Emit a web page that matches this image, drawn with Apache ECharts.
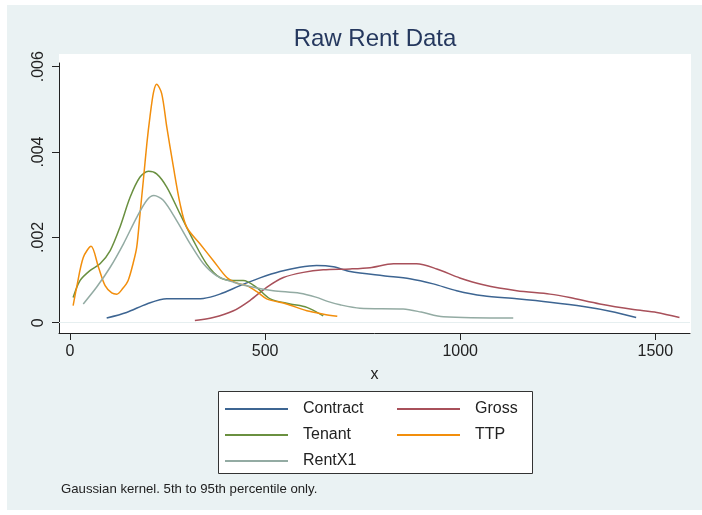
<!DOCTYPE html>
<html>
<head>
<meta charset="utf-8">
<script src="https://cdn.jsdelivr.net/npm/echarts@6/dist/echarts.min.js"></script>
<style>
html,body{margin:0;padding:0;background:#fff;}
#chart{width:702px;height:515px;}
</style>
</head>
<body>
<div id="chart"></div>
<script>
// ---- data (x = rent, y = density) ----
const seriesNames = ['Contract', 'Gross', 'Tenant', 'TTP', 'RentX1'];
const contract = [[94,0.00011],[145,0.00024],[197,0.00044],[248,0.00056],[299,0.00056],[342,0.00057],[384,0.00067],[436,0.00087],[487,0.00105],[538,0.0012],[589,0.0013],[632,0.00134],[675,0.00131],[718,0.0012],[803,0.0011],[871,0.00103],[931,0.00091],[991,0.00075],[1059,0.00063],[1145,0.00056],[1230,0.00048],[1316,0.00038],[1384,0.00027],[1451,0.00012]];
const gross = [[320,0.00005],[367,0.00012],[419,0.00028],[461,0.00052],[504,0.00083],[547,0.00106],[598,0.00118],[649,0.00124],[718,0.00126],[769,0.00129],[829,0.00138],[888,0.00138],[940,0.00126],[999,0.00105],[1059,0.00089],[1145,0.00075],[1230,0.00067],[1281,0.00059],[1358,0.00044],[1444,0.00031],[1504,0.00024],[1562,0.00012]];
const tenant = [[8,0.00059],[26,0.00099],[51,0.00122],[77,0.00138],[103,0.00169],[128,0.00224],[154,0.00294],[179,0.00341],[201,0.00355],[222,0.00349],[248,0.00318],[282,0.00255],[316,0.00193],[350,0.00138],[384,0.00106],[419,0.00099],[444,0.00099],[478,0.00083],[513,0.00056],[564,0.00044],[607,0.00036],[649,0.00016]];
const ttp = [[8,0.0004],[17,0.00083],[34,0.00153],[54,0.00179],[73,0.0013],[90,0.00087],[107,0.0007],[120,0.00067],[135,0.0008],[149,0.00099],[162,0.0014],[171,0.00177],[180,0.0026],[188,0.00334],[197,0.0042],[205,0.00483],[214,0.0054],[222,0.00559],[235,0.00537],[248,0.00459],[265,0.00365],[282,0.00279],[299,0.00224],[333,0.00185],[367,0.00146],[402,0.00106],[430,0.00092],[453,0.00087],[480,0.00072],[504,0.00056],[555,0.00044],[607,0.00028],[650,0.0002],[685,0.00015]];
const rentx1 = [[34,0.00044],[68,0.00083],[103,0.0013],[137,0.00185],[171,0.00247],[197,0.00287],[215,0.00298],[239,0.00287],[273,0.0024],[308,0.00185],[342,0.00138],[376,0.0011],[419,0.00095],[470,0.00083],[521,0.00075],[589,0.00069],[630,0.0006],[660,0.0005],[692,0.00042],[743,0.00034],[854,0.00032],[900,0.00025],[957,0.00014],[1136,0.00011]];
const xTicks = [0, 500, 1000, 1500];
const xTickLabels = ['0', '500', '1000', '1500'];
const yTicks = [0, 0.002, 0.004, 0.006];
const yTickLabels = ['0', '.002', '.004', '.006'];
const titleText = 'Raw Rent Data';
const xTitle = 'x';
const noteText = 'Gaussian kernel. 5th to 95th percentile only.';

const colors = ['#3d6592', '#a8505a', '#6a9040', '#f28e0c', '#93aba3'];
const allData = [contract, gross, tenant, ttp, rentx1];
const font = 'Liberation Sans, Arial, Helvetica, sans-serif';

const chart = echarts.init(document.getElementById('chart'), null, {renderer: 'canvas'});

function pickLabel(ticks, labels) {
  return v => {
    const idx = ticks.findIndex(t => Math.abs(t - v) < 1e-9);
    return idx >= 0 ? labels[idx] : '';
  };
}

const series = seriesNames.map((name, i) => ({
  name: name,
  type: 'line',
  data: allData[i],
  smooth: 0.3,
  symbol: 'none',
  lineStyle: {width: 1.5, color: colors[i]},
  itemStyle: {color: colors[i]},
  z: 3
}));
// grid lines as a mark line on a helper series
series.push({
  name: '_grid',
  type: 'line',
  data: [],
  silent: true,
  z: 1,
  markLine: {
    silent: true,
    symbol: ['none', 'none'],
    label: {show: false},
    lineStyle: {color: '#e6eff0', width: 1.2, type: 'solid'},
    data: yTicks.map(v => ({yAxis: v}))
  }
});

const option = {
  backgroundColor: '#ffffff',
  animation: false,
  color: colors,
  textStyle: {fontFamily: font},
  grid: {left: 59, right: 12, top: 63, bottom: 182, containLabel: false},
  xAxis: {
    type: 'value',
    min: -28.2,
    max: 1589,
    name: xTitle,
    nameLocation: 'middle',
    nameGap: 34,
    nameTextStyle: {fontSize: 16, color: '#222', fontFamily: font},
    axisLine: {show: true, onZero: false, lineStyle: {color: '#222', width: 1}},
    axisTick: {show: true, length: 7, lineStyle: {color: '#222'}, customValues: xTicks},
    axisLabel: {show: true, customValues: xTicks, margin: 11, fontSize: 16, color: '#222', fontFamily: font,
      formatter: pickLabel(xTicks, xTickLabels)},
    splitLine: {show: false}
  },
  yAxis: {
    type: 'value',
    min: -0.000241,
    max: 0.006087,
    axisLine: {show: true, onZero: false, lineStyle: {color: '#222', width: 1}},
    axisTick: {show: true, length: 7, lineStyle: {color: '#222'}, customValues: yTicks},
    axisLabel: {
      show: true,
      customValues: yTicks,
      rotate: 90,
      margin: 12,
      fontSize: 16,
      color: '#222',
      fontFamily: font,
      formatter: pickLabel(yTicks, yTickLabels)
    },
    splitLine: {show: false}
  },
  legend: [
    {
      data: [seriesNames[0], seriesNames[2], seriesNames[4]],
      orient: 'vertical',
      left: 225,
      top: 401,
      icon: 'rect',
      itemWidth: 63,
      itemHeight: 2,
      itemGap: 10,
      padding: 0,
      selectedMode: false,
      textStyle: {fontSize: 16, lineHeight: 16, color: '#222', fontFamily: font, padding: [0, 0, 0, 10]}
    },
    {
      data: [seriesNames[1], seriesNames[3]],
      orient: 'vertical',
      left: 397,
      top: 401,
      icon: 'rect',
      itemWidth: 63,
      itemHeight: 2,
      itemGap: 10,
      padding: 0,
      selectedMode: false,
      textStyle: {fontSize: 16, lineHeight: 16, color: '#222', fontFamily: font, padding: [0, 0, 0, 10]}
    }
  ],
  graphic: [
    {type: 'rect', z: -20, silent: true, shape: {x: 7, y: 5, width: 695, height: 505}, style: {fill: '#eaf2f3'}},
    {type: 'rect', z: -10, silent: true, shape: {x: 59, y: 54, width: 632, height: 279}, style: {fill: '#ffffff'}},
    {type: 'rect', z: 1, silent: true, shape: {x: 218.5, y: 391.5, width: 314, height: 82}, style: {fill: '#ffffff', stroke: '#333', lineWidth: 1}},
    {type: 'text', z: 5, silent: true, style: {text: titleText, x: 375, y: 39, align: 'center', verticalAlign: 'middle', fontSize: 24, fontFamily: font, fill: '#25385e'}},
    {type: 'text', z: 5, silent: true, style: {text: noteText, x: 61, y: 489, align: 'left', verticalAlign: 'middle', fontSize: 13.2, fontFamily: font, fill: '#222'}}
  ],
  series: series
};
chart.setOption(option);
</script>
</body>
</html>
